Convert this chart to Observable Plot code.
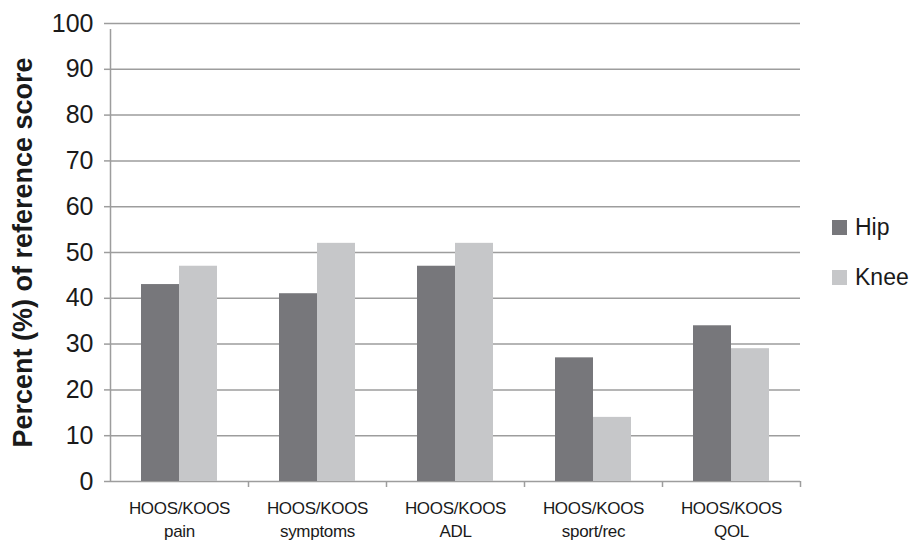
<!DOCTYPE html>
<html>
<head>
<meta charset="utf-8">
<script src="https://cdn.jsdelivr.net/npm/d3@7"></script>
<script src="https://cdn.jsdelivr.net/npm/@observablehq/plot@0.6"></script>
<style>
  body { margin: 0; background: #fff; font-family: "Liberation Sans", Arial, sans-serif; }
  #wrap { position: relative; width: 919px; height: 545px; overflow: hidden; }
  #chart svg { font-family: "Liberation Sans", Arial, sans-serif; }
  g[aria-label="y-axis label"] text { font-weight: bold; font-size: 27px; fill: #1a1a1a; }
  g[aria-label="y-axis tick label"] text { font-size: 25px; fill: #1a1a1a; }
  g[aria-label="x-axis tick label"] text { font-size: 17px; letter-spacing: -0.3px; fill: #1a1a1a; }
  #legend { position: absolute; left: 832px; top: 212px; font-size: 23px; color: #1a1a1a; white-space: nowrap; }
  .item { display: flex; align-items: center; height: 30px; margin-bottom: 20px; }
  .sw { width: 15px; height: 15px; margin-right: 8px; }
</style>
</head>
<body>
<div id="wrap">
  <div id="chart"></div>
  <div id="legend"></div>
</div>
<script>
const categories = ["HOOS/KOOS\npain", "HOOS/KOOS\nsymptoms", "HOOS/KOOS\nADL", "HOOS/KOOS\nsport/rec", "HOOS/KOOS\nQOL"];
const hip = [43, 41, 47, 27, 34];
const knee = [47, 52, 52, 14, 29];
const seriesNames = ["Hip", "Knee"];
const seriesColors = ["#77777b", "#c6c7c9"];
const yTicks = [0, 10, 20, 30, 40, 50, 60, 70, 80, 90, 100];

const table = categories.map((c, i) => ({category: c, hip: hip[i], knee: knee[i]}));

const W = 812, H = 545, mL = 110, mR = 12, mT = 23, mB = 64;
const bw = (W - mL - mR) / categories.length;
const barW = 38;
const gridColor = "#9d9d9d";

const chart = Plot.plot({
  width: W,
  height: H,
  marginLeft: mL,
  marginRight: mR,
  marginTop: mT,
  marginBottom: mB,
  x: {domain: categories, padding: 0},
  y: {domain: [0, 100]},
  marks: [
    Plot.ruleY(yTicks, {stroke: gridColor, strokeWidth: 1.5}),
    Plot.barY(table, {x: "category", y: "hip", fill: seriesColors[0],
      insetLeft: bw / 2 - barW, insetRight: bw / 2}),
    Plot.barY(table, {x: "category", y: "knee", fill: seriesColors[1],
      insetLeft: bw / 2, insetRight: bw / 2 - barW}),
    Plot.ruleX([categories[0]], {x: d => d, dx: -bw / 2, y1: 0, y2: 100, insetBottom: -6, stroke: gridColor, strokeWidth: 1.5}),
    Plot.ruleX(categories, {x: d => d, dx: bw / 2, y1: 0, y2: 0, insetBottom: -6, stroke: gridColor, strokeWidth: 1.5}),
    Plot.axisY({ticks: yTicks, tickSize: 6, tickPadding: 11, stroke: gridColor, strokeWidth: 1.5,
      label: "Percent (%) of reference score", labelAnchor: "center", labelArrow: false, labelOffset: 98}),
    Plot.axisX({tickSize: 0, tickPadding: 16, label: null, lineHeight: 1.35})
  ]
});
document.getElementById("chart").appendChild(chart);

const legend = document.getElementById("legend");
seriesNames.forEach((n, i) => {
  const it = document.createElement("div");
  it.className = "item";
  const sw = document.createElement("div");
  sw.className = "sw";
  sw.style.background = seriesColors[i];
  const t = document.createElement("span");
  t.textContent = n;
  it.appendChild(sw); it.appendChild(t);
  legend.appendChild(it);
});
</script>
</body>
</html>
